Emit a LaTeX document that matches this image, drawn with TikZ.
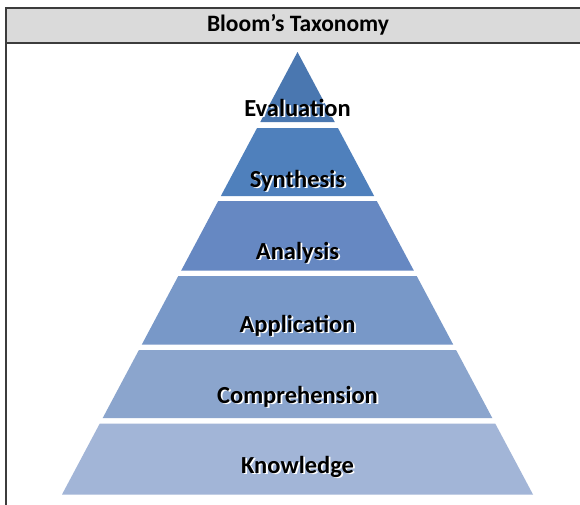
\documentclass[tikz,border=0pt]{standalone}
\usepackage{fontspec}
\setmainfont{Carlito}
\definecolor{frameline}{HTML}{3C3C3C}
\definecolor{headfill}{HTML}{DADADA}
\definecolor{cEval}{HTML}{4A77B0}
\definecolor{cSynt}{HTML}{4F80BC}
\definecolor{cAnal}{HTML}{6688C2}
\definecolor{cAppl}{HTML}{7898C8}
\definecolor{cComp}{HTML}{8BA5CD}
\definecolor{cKnow}{HTML}{A2B5D7}
\newcommand{\pyrlayer}[3]{%
  \fill[#3] ({297.5-(#1-52)*0.5322},#1) -- ({297.5+(#1-52)*0.5322},#1)
     -- ({297.5+(#2-52)*0.5322},#2) -- ({297.5-(#2-52)*0.5322},#2) -- cycle;}
\newcommand{\shadowtext}[1]{\makebox[0pt][l]{\hspace{1.8pt}\raisebox{-1.8pt}{\color{white}#1}}#1}
\begin{document}
\begin{tikzpicture}[x=1pt,y=-1pt,
  lbl/.style={font=\bfseries\fontsize{24.5}{28}\selectfont, text=black, anchor=base, inner sep=0pt},
  headtxt/.style={font=\bfseries\fontsize{23.5}{27}\selectfont, text=black, anchor=base, inner sep=0pt}]
\useasboundingbox (0,0) rectangle (580,504);
\clip (0,0) rectangle (580,504);
% frame
\fill[white] (0,0) rectangle (580,504);
\fill[headfill] (6,8) rectangle (590,43);
\draw[frameline, line width=2pt] (6,520) -- (6,8) -- (590,8);
\draw[frameline, line width=2pt] (6,43) -- (590,43);
\node[headtxt] (title) at (298,31) {Bloom’s Taxonomy};
% pyramid layers
\pyrlayer{52}{122}{cEval}
\pyrlayer{128}{196}{cSynt}
\pyrlayer{201}{270.5}{cAnal}
\pyrlayer{276}{344.5}{cAppl}
\pyrlayer{350}{418}{cComp}
\pyrlayer{423.5}{494.5}{cKnow}
% labels with white shadow
\foreach \name/\txt/\yb in {eval/Evaluation/116, synt/Synthesis/187, anal/Analysis/259, appl/Application/332, comp/Comprehension/403, know/Knowledge/473}{
  \node[lbl] (\name) at (297.5,\yb) {\shadowtext{\txt}};
}
\end{tikzpicture}
\end{document}
